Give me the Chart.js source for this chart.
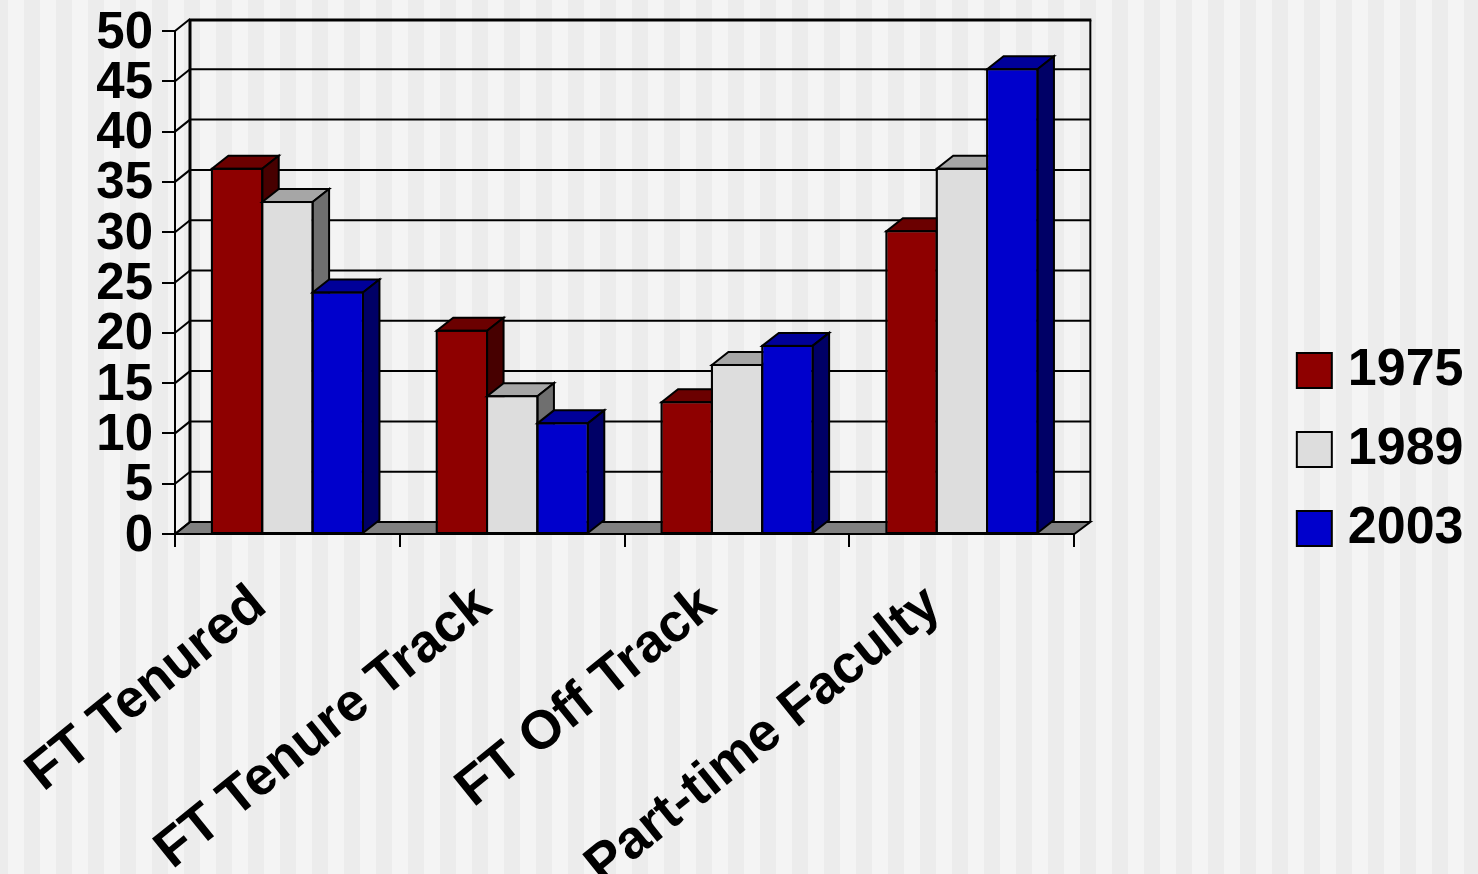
<!DOCTYPE html>
<html>
<head>
  <meta charset="UTF-8">
  <title>Faculty Appointments</title>
  <script src="https://cdn.jsdelivr.net/npm/chart.js"></script>
  <style>
    html, body {
      margin: 0;
      padding: 0;
      overflow: hidden;
    }

    body {
      width: 1478px;
      height: 874px;
      background-color: #f4f4f4;
      background-image: repeating-linear-gradient(90deg, #ececec 0, #ececec 8px, #f4f4f4 8px, #f4f4f4 24px, #ececec 24px, #ececec 32px);
    }

    canvas {
      display: block;
    }
  </style>
</head>
<body>
<canvas id="facultyChart" width="1478" height="874"></canvas>

<script>
  const categories = ['FT Tenured', 'FT Tenure Track', 'FT Off Track', 'Part-time Faculty'];
  const values1975 = [36.3, 20.2, 13.1, 30.1];
  const values1989 = [33, 13.7, 16.8, 36.3];
  const values2003 = [24, 11, 18.7, 46.2];

  // front, top and side shades for each series
  const frontColors = ['#8e0000', '#dddddd', '#0000cc'];
  const topColors = ['#6b0000', '#a6a6a6', '#000099'];
  const sideColors = ['#470000', '#6f6f6f', '#000066'];

  const WALL_DX = 15;
  const WALL_DY = 12;
  const BAR_DX = 16.5;
  const BAR_DY = 13;

  function fillFace(ctx, points, color) {
    ctx.beginPath();
    points.forEach((p, i) => i ? ctx.lineTo(p[0], p[1]) : ctx.moveTo(p[0], p[1]));
    ctx.closePath();
    ctx.fillStyle = color;
    ctx.fill();
    ctx.stroke();
  }

  function strokeLine(ctx, x1, y1, x2, y2, width) {
    ctx.lineWidth = width;
    ctx.beginPath();
    ctx.moveTo(x1, y1);
    ctx.lineTo(x2, y2);
    ctx.stroke();
  }

  // Back wall, floor and the extruded bars. Series are painted left to right
  // so each bar covers the side face of its neighbour.
  const box3d = {
    id: 'box3d',
    afterLayout(chart) {
      // rotated labels run down to the canvas edge
      chart.scales.x.bottom = chart.height;
    },
    beforeDatasetsDraw(chart) {
      const ctx = chart.ctx;
      const area = chart.chartArea;
      const yScale = chart.scales.y;
      const backLeft = area.left + WALL_DX;
      const backRight = area.right + WALL_DX + 1;
      const baseY = yScale.getPixelForValue(0);

      ctx.save();
      ctx.strokeStyle = '#000000';
      ctx.lineJoin = 'miter';

      ctx.lineWidth = 2;
      fillFace(ctx, [
        [area.left, baseY],
        [backLeft, baseY - WALL_DY],
        [backRight, baseY - WALL_DY],
        [area.right, baseY]
      ], '#808080');

      yScale.ticks.forEach(tick => {
        const y = yScale.getPixelForValue(tick.value);
        strokeLine(ctx, area.left, y, backLeft, y - WALL_DY, 2);
        if (tick.value > 0 && tick.value < 50) {
          strokeLine(ctx, backLeft, y - WALL_DY, backRight, y - WALL_DY, 2);
        }
      });

      const wallTop = yScale.getPixelForValue(50) - WALL_DY + 1;
      strokeLine(ctx, backLeft, wallTop, backLeft, baseY - WALL_DY, 3);
      strokeLine(ctx, backRight, wallTop, backRight, baseY - WALL_DY, 2);
      strokeLine(ctx, backLeft - 1, wallTop, backRight + 1, wallTop, 3);

      ctx.lineWidth = 2;
      chart.data.datasets.forEach((dataset, i) => {
        chart.getDatasetMeta(i).data.forEach(bar => {
          const left = bar.x - bar.width / 2;
          const right = bar.x + bar.width / 2;
          const top = bar.y;
          const bottom = bar.base;
          fillFace(ctx, [
            [left, top],
            [left + BAR_DX, top - BAR_DY],
            [right + BAR_DX, top - BAR_DY],
            [right, top]
          ], topColors[i]);
          fillFace(ctx, [
            [right, top],
            [right + BAR_DX, top - BAR_DY],
            [right + BAR_DX, bottom - BAR_DY],
            [right, bottom]
          ], sideColors[i]);
          bar.draw(ctx);
          // outline sits on the bar edge so neighbours share one line
          ctx.strokeRect(left, top, bar.width, bottom - top);
        });
      });

      ctx.restore();
      return false;
    }
  };

  function makeDataset(label, data, i) {
    return {
      label: label,
      data: data,
      backgroundColor: frontColors[i],
      borderColor: '#000000',
      borderWidth: 1,
      borderSkipped: false
    };
  }

  new Chart(document.getElementById('facultyChart').getContext('2d'), {
    type: 'bar',
    data: {
      labels: categories,
      datasets: [
        makeDataset('1975', values1975, 0),
        makeDataset('1989', values1989, 1),
        makeDataset('2003', values2003, 2)
      ]
    },
    plugins: [box3d],
    options: {
      responsive: false,
      animation: false,
      categoryPercentage: 0.672,
      barPercentage: 1,
      layout: {
        padding: { top: 31, bottom: 6, left: 0, right: 4.5 }
      },
      plugins: {
        title: { display: false },
        tooltip: { enabled: false },
        legend: {
          position: 'right',
          labels: {
            usePointStyle: true,
            pointStyle: 'rect',
            boxWidth: 15,
            boxHeight: 35,
            padding: 27,
            color: '#000000',
            font: { family: '"Liberation Sans", Arial, sans-serif', weight: 'bold', size: 52, lineHeight: 1.25 },
            generateLabels(chart) {
              return Chart.defaults.plugins.legend.labels.generateLabels(chart)
                .map(item => ({ ...item, lineWidth: 2 }));
            }
          }
        }
      },
      scales: {
        x: {
          afterFit(scale) {
            scale.height = 334;
            scale.paddingLeft = 0;
            scale.paddingRight = 0;
          },
          grid: { drawOnChartArea: false, color: '#000000', lineWidth: 2, tickLength: 13 },
          border: { color: '#000000', width: 2 },
          ticks: {
            autoSkip: false,
            minRotation: 39,
            maxRotation: 39,
            padding: 26,
            labelOffset: -28,
            color: '#000000',
            font: { family: '"Liberation Sans", Arial, sans-serif', weight: 'bold', size: 54 }
          }
        },
        y: {
          min: 0,
          max: 50,
          afterFit(scale) {
            scale.width = 175;
            scale.paddingTop = 0;
            scale.paddingBottom = 0;
          },
          grid: { drawOnChartArea: false, color: '#000000', lineWidth: 2, tickLength: 13 },
          border: { color: '#000000', width: 2 },
          ticks: {
            stepSize: 5,
            autoSkip: false,
            maxTicksLimit: 11,
            padding: 9,
            labelOffset: 2.5,
            color: '#000000',
            font: { family: '"Liberation Sans", Arial, sans-serif', weight: 'bold', size: 51, lineHeight: 1 }
          }
        },
        // keeps the gap between the plot and the legend
        legendGap: {
          axis: 'y',
          position: 'right',
          afterFit(scale) { scale.width = 205.5; },
          grid: { display: false },
          border: { display: false },
          ticks: { display: false }
        }
      }
    }
  });
</script>

</body>
</html>
